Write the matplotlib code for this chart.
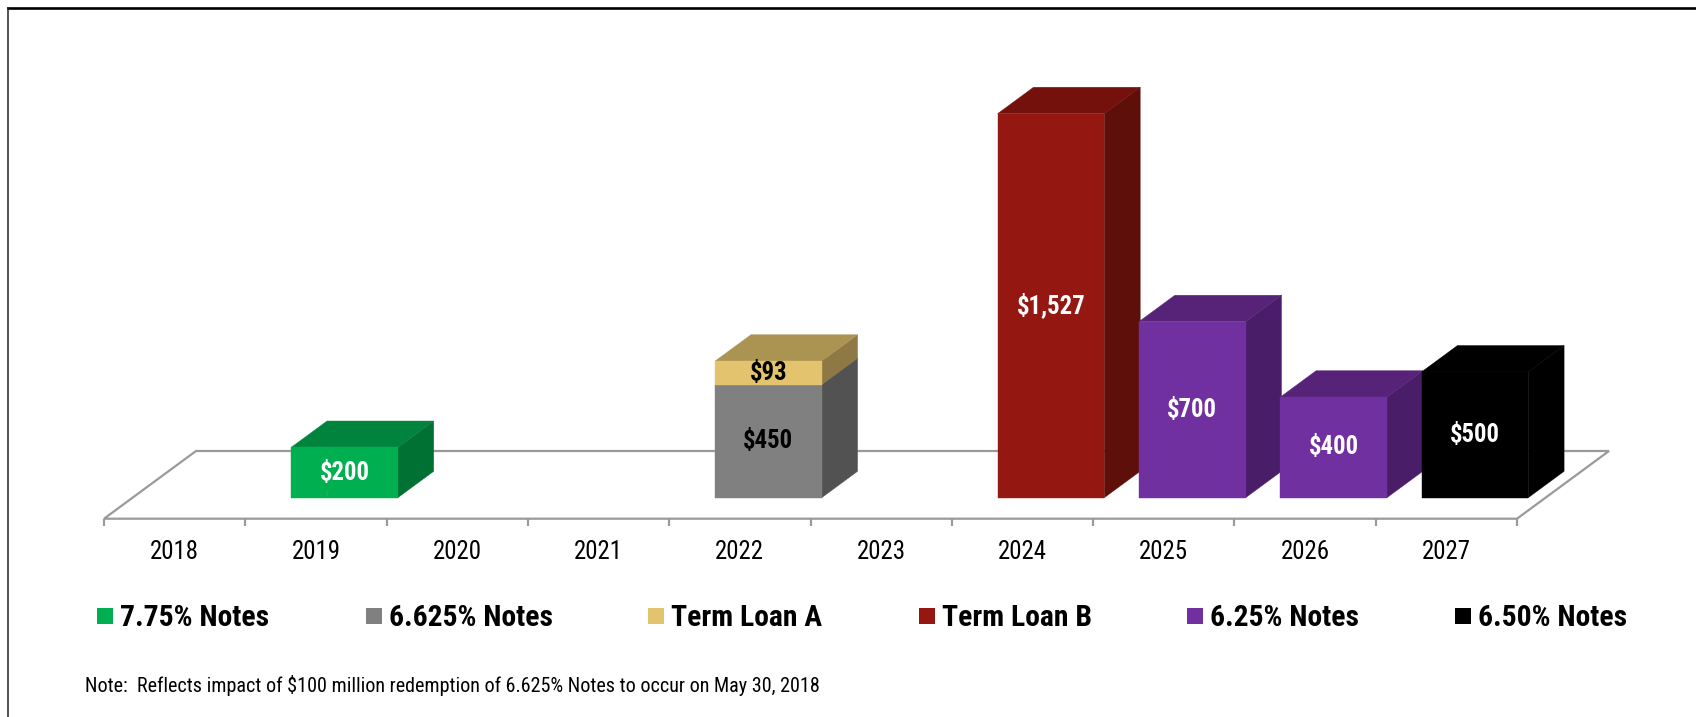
import matplotlib
matplotlib.use("Agg")
import matplotlib.pyplot as plt
from matplotlib.patches import Polygon, Rectangle
from matplotlib import font_manager
from matplotlib.font_manager import FontProperties
from matplotlib.textpath import TextPath

# ---- data ($ millions) ----
years = ["2018", "2019", "2020", "2021", "2022", "2023", "2024", "2025", "2026", "2027"]
series_names = ["7.75% Notes", "6.625% Notes", "Term Loan A", "Term Loan B", "6.25% Notes", "6.50% Notes"]
notes_775 = [0, 200, 0, 0, 0, 0, 0, 0, 0, 0]
notes_6625 = [0, 0, 0, 0, 450, 0, 0, 0, 0, 0]
term_loan_a = [0, 0, 0, 0, 93, 0, 0, 0, 0, 0]
term_loan_b = [0, 0, 0, 0, 0, 0, 1527, 0, 0, 0]
notes_625 = [0, 0, 0, 0, 0, 0, 0, 700, 400, 0]
notes_650 = [0, 0, 0, 0, 0, 0, 0, 0, 0, 500]
footnote = "Note:  Reflects impact of $100 million redemption of 6.625% Notes to occur on May 30, 2018"

series_values = [notes_775, notes_6625, term_loan_a, term_loan_b, notes_625, notes_650]

# front, top, side shades for each series
colors = [
    ("#00B050", "#00843D", "#007033"),
    ("#808080", "#6E6E6E", "#525252"),
    ("#E3C36E", "#AB9352", "#8E7843"),
    ("#951711", "#75110C", "#5E0F0A"),
    ("#7030A0", "#562379", "#4A1D68"),
    ("#000000", "#000000", "#000000"),
]
label_colors = ["white", "black", "black", "white", "white", "white"]

# ---- fonts: prefer a narrow grotesque ----
available = {f.name for f in font_manager.fontManager.ttflist}
preferred = ["Liberation Sans Narrow", "Arial Narrow", "Roboto Condensed", "Archivo Narrow",
             "PT Sans Narrow", "Liberation Sans"]
main_font = next((f for f in preferred if f in available), "DejaVu Sans")
plt.rcParams["font.family"] = [main_font, "DejaVu Sans"]

# ---- canvas ----
W, H = 1696, 717
fig = plt.figure(figsize=(W / 100, H / 100), dpi=100)
ax = fig.add_axes([0, 0, 1, 1])
ax.set_axis_off()


def fit_size(text, width_px, cap_px, weight="normal", ref=20.0, w_share=0.45):
    """Font size (pt) balancing a target text width and a target cap height."""
    prop = FontProperties(family=[main_font, "DejaVu Sans"], weight=weight)
    ext = TextPath((0, 0), text, size=ref, prop=prop).get_extents()
    w_px = ext.width * 100 / 72
    cap = TextPath((0, 0), "0", size=ref, prop=prop).get_extents().height * 100 / 72
    s_w = ref * width_px / w_px
    s_h = ref * cap_px / cap
    return s_w ** w_share * s_h ** (1 - w_share)


FS_YEAR = fit_size("2018", 48, 17.7)
FS_BAR = fit_size("$450", 47, 18.3, "bold")
FS_LEG = fit_size("7.75% Notes", 152, 21.0, "bold")
FS_NOTE = fit_size(footnote, 718, 15.0)

PX_X = 141.3     # pixels per category
PX_V = 0.2515    # pixels per $ million
X0, Y0 = 104.0, 518.7   # front-left corner of the floor (pixels from top-left)
ax.set_xlim(-X0 / PX_X, (W - X0) / PX_X)
ax.set_ylim((Y0 - H) / PX_V, Y0 / PX_V)

n = len(years)
DX = 92.0 / PX_X      # floor depth, horizontal
DV = 67.7 / PX_V      # floor depth, vertical
F_FRONT = 0.31        # bar front plane as a fraction of floor depth
F_DEPTH = 0.39        # bar depth as a fraction of floor depth
BAR_W = 0.755

# floor
floor = Polygon([(0, 0), (n, 0), (n + DX, DV), (DX, DV)], closed=True,
                facecolor="white", edgecolor="#9A9A9A", linewidth=1.6, zorder=1)
ax.add_patch(floor)
tick_len = 7.5 / PX_V
for i in range(n + 1):
    ax.plot([i, i], [0, -tick_len], color="#9A9A9A", linewidth=1.6, zorder=1,
            solid_capstyle="butt")
for i, yr in enumerate(years):
    ax.text(i + 0.5, -(559.3 - Y0) / PX_V, yr, ha="center", va="baseline",
            fontsize=FS_YEAR, color="black")

# bars
bdx = F_DEPTH * DX
bdv = F_DEPTH * DV
base_v = F_FRONT * DV
z = 2
for i in range(n):
    x0 = i + (1 - BAR_W) / 2 + F_FRONT * DX
    x1 = x0 + BAR_W
    bottom = base_v
    for s, vals in enumerate(series_values):
        v = vals[i]
        if v <= 0:
            continue
        top = bottom + v
        front_c, top_c, side_c = colors[s]
        side = Polygon([(x1, bottom), (x1 + bdx, bottom + bdv), (x1 + bdx, top + bdv), (x1, top)],
                       closed=True, facecolor=side_c, edgecolor=side_c, linewidth=0.3, zorder=z)
        topf = Polygon([(x0, top), (x1, top), (x1 + bdx, top + bdv), (x0 + bdx, top + bdv)],
                       closed=True, facecolor=top_c, edgecolor=top_c, linewidth=0.3, zorder=z)
        front = Polygon([(x0, bottom), (x1, bottom), (x1, top), (x0, top)],
                        closed=True, facecolor=front_c, edgecolor=front_c, linewidth=0.3, zorder=z)
        for p in (side, topf, front):
            ax.add_patch(p)
        ax.text((x0 + x1) / 2, (bottom + top) / 2, f"${v:,.0f}", ha="center", va="center",
                fontsize=FS_BAR, fontweight="bold", color=label_colors[s], zorder=z + 0.5)
        bottom = top
        z += 1

# legend row
leg_left = [97, 365.6, 648, 919, 1186.5, 1454.7]
sq = 16.0
for s, name in enumerate(series_names):
    xl = leg_left[s]
    fig.patches.append(Rectangle((xl / W, 1 - 624.3 / H), sq / W, sq / H,
                                 transform=fig.transFigure, facecolor=colors[s][0],
                                 edgecolor="none"))
    fig.text((xl + sq + 7) / W, 1 - 626.0 / H, name, ha="left", va="baseline",
             fontsize=FS_LEG, fontweight="bold", color="black")

fig.text(85 / W, 1 - 691.7 / H, footnote, ha="left", va="baseline", fontsize=FS_NOTE, color="black")

# frame lines (top and left)
fig.add_artist(plt.Line2D([8 / W, 1], [1 - 8.3 / H, 1 - 8.3 / H], transform=fig.transFigure,
                          color="black", linewidth=1.9))
fig.add_artist(plt.Line2D([8.3 / W, 8.3 / W], [0, 1 - 8.3 / H], transform=fig.transFigure,
                          color="#222222", linewidth=1.1))

fig.savefig("out.png", dpi=100, facecolor="white")
